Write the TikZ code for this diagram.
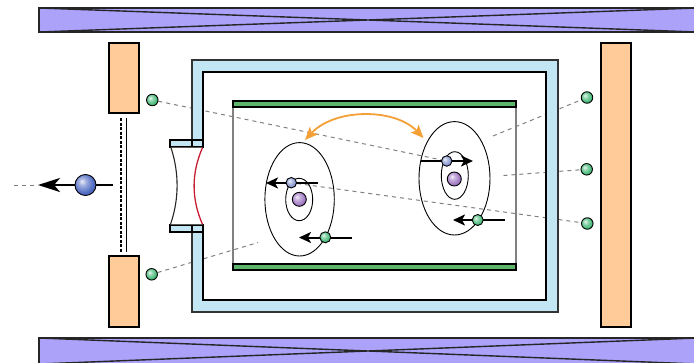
\documentclass[tikz,border=0pt]{standalone}
\usetikzlibrary{arrows.meta}
\pgfdeclarelayer{back}
\pgfdeclarelayer{mid}
\pgfsetlayers{back,mid,main}
\definecolor{barpurple}{RGB}{172,162,250}
\definecolor{slab}{RGB}{255,204,153}
\definecolor{band}{RGB}{194,230,244}
\definecolor{plate}{RGB}{92,181,106}
\definecolor{swapor}{RGB}{245,160,55}
\definecolor{ray}{RGB}{128,128,128}
\definecolor{lensred}{RGB}{200,30,50}
\definecolor{eblue}{RGB}{135,150,210}
\definecolor{egreen}{RGB}{70,185,120}
\definecolor{nuc}{RGB}{160,120,195}
\definecolor{pblue}{RGB}{80,108,195}
\colorlet{ballc}{egreen}
% soft sphere shading, highlight to the upper left
\pgfdeclareradialshading[ballc]{softball}{\pgfpoint{-9bp}{9bp}}{%
  color(0bp)=(ballc!10!white); color(9bp)=(ballc!55!white);
  color(24bp)=(ballc); color(36bp)=(ballc!85!black); color(60bp)=(ballc!65!black)}
\begin{document}
\begin{tikzpicture}[x=1pt,y=-1pt,
  bcol/.code={\colorlet{ballc}{#1}},
  ball/.style={circle,draw=black,line width=0.9pt,inner sep=0pt,shading=softball},
  marker/.style={bcol=egreen,ball,minimum size=11.5pt},
  electron/.style={bcol=eblue,ball,minimum size=10.5pt},
  velectron/.style={bcol=egreen,ball,minimum size=11pt},
  nucleus/.style={bcol=nuc,ball,minimum size=14pt},
  photoel/.style={bcol=pblue,ball,minimum size=21pt},
  raypath/.style={ray,line width=1pt,dash pattern=on 4pt off 4pt},
  kick/.style={line width=2pt,-{Stealth[length=12pt,width=11pt,inset=3pt]}},
  bigkick/.style={line width=2.8pt,-{Stealth[length=22pt,width=14pt,inset=6pt]}},
  magnet/.style={fill=barpurple,draw=black!85,line width=1.6pt},
  slabstyle/.style={fill=slab,draw=black,line width=1.5pt},
  platestyle/.style={fill=plate,draw=black,line width=1.6pt},
  orbit/.style={draw=black,line width=0.9pt}
]
\useasboundingbox (0,0) rectangle (694,362);

% magnet bars with cross marks
\filldraw[magnet] (39,8) rectangle (697,32);
\draw[line width=1.4pt,black!85] (39,8) -- (697,32) (39,32) -- (697,8);
\filldraw[magnet] (39,338) rectangle (697,364);
\draw[line width=1.4pt,black!85] (39,338) -- (697,364) (39,364) -- (697,338);

% side slabs
\filldraw[slabstyle] (109,43) rectangle (139,113);
\filldraw[slabstyle] (109,256) rectangle (139,327);
\filldraw[slabstyle] (601,43) rectangle (631,327);

% grid between the left slabs
\draw[line width=2.2pt,dash pattern=on 3pt off 1.5pt] (121,118) -- (121,252);
\draw[line width=1pt] (126.3,118) -- (126.3,252);

% inner chamber and plates
\draw[ray,line width=1.2pt] (233,104) rectangle (516,266);
\filldraw[platestyle] (233,101) rectangle (516,107);
\filldraw[platestyle] (233,264) rectangle (516,270);

% atom orbits
\draw[orbit] (299.6,199.3) ellipse [x radius=34.7pt, y radius=56.7pt];
\draw[orbit] (299.2,199.5) ellipse [x radius=13.5pt, y radius=21.2pt];
\draw[orbit] (454.5,178.3) ellipse [x radius=35.5pt, y radius=56.7pt];
\draw[orbit] (454.8,175.5) ellipse [x radius=13.5pt, y radius=23.8pt];

% detector markers
\node[marker] (mlt) at (152.3,100) {};
\node[marker] (mlb) at (151.7,274.3) {};
\node[marker] (mrt) at (587,97.5) {};
\node[marker] (mrm) at (586.7,169.3) {};
\node[marker] (mrb) at (587.3,223.5) {};

% atoms
\node[nucleus] (nL) at (299.3,199.3) {};
\node[nucleus] (nR) at (454.3,179) {};
\node[electron] (eLb) at (291.3,182.7) {};
\node[velectron] (eLg) at (325.3,237.3) {};
\node[electron] (eRb) at (446.7,161) {};
\node[velectron] (eRg) at (477.7,220) {};

% emitted electron
\node[photoel] (pe) at (85.5,185) {};

% free ends of paths
\coordinate (rayLB) at (258,242.5);
\coordinate (rayRT) at (493,136);
\coordinate (rayRM) at (503.5,175.5);
\coordinate (rayFar) at (14,185);
\coordinate (peTip) at (38,185);
\coordinate (peTail) at (113,185);
\coordinate (eLbTip) at (266,183);
\coordinate (eLbTail) at (318,183);
\coordinate (eLgTip) at (299,237.5);
\coordinate (eLgTail) at (352,237.5);
\coordinate (eRbTip) at (473,161);
\coordinate (eRbTail) at (421,161);
\coordinate (eRgTip) at (453,220);
\coordinate (eRgTail) at (505,220);
\coordinate (swapL) at (305,140);
\coordinate (swapR) at (423.5,138);

% rays, under the vessel wall
\begin{pgfonlayer}{back}
\draw[raypath] (mlt) -- (eRb);
\draw[raypath] (mlb) -- (rayLB);
\draw[raypath] (eLb) -- (mrb);
\draw[raypath] (rayRT) -- (mrt);
\draw[raypath] (rayRM) -- (mrm);
\draw[raypath] (rayFar) -- (peTip);
\end{pgfonlayer}

\begin{pgfonlayer}{mid}
% vessel wall with a window on the left side
\fill[band] (192,147) -- (192,60) -- (558,60) -- (558,312) -- (192,312) -- (192,225)
  -- (203,225) -- (203,300) -- (546,300) -- (546,72) -- (203,72) -- (203,147) -- cycle;
\draw[black!80,line width=1.2pt] (192,147) -- (192,60) -- (558,60) -- (558,312) -- (192,312) -- (192,225);
\filldraw[fill=band,draw=black,line width=1.4pt] (170,140) rectangle (203,147);
\filldraw[fill=band,draw=black,line width=1.4pt] (170,225) rectangle (203,232);
\draw[black,line width=1.2pt] (192,140) -- (192,147) (192,225) -- (192,232);
\draw[black,line width=2.4pt] (203,147) -- (203,72) -- (546,72) -- (546,300) -- (203,300) -- (203,225);
% window lens
\fill[white] (171,147.7) .. controls (179.2,173) and (179.2,199) .. (170.5,224.3)
  -- (202.5,224.3) .. controls (191.3,199) and (191.3,173) .. (202.5,147.7) -- cycle;
\draw[black!85,line width=1.1pt] (171,147.7) .. controls (179.2,173) and (179.2,199) .. (170.5,224.3);
\draw[lensred,line width=1.3pt] (202.5,147.7) .. controls (191.3,173) and (191.3,199) .. (202.5,224.3);
% electron motion arrows
\draw[kick] (eLbTail) -- (eLbTip);
\draw[kick] (eLgTail) -- (eLgTip);
\draw[kick] (eRbTail) -- (eRbTip);
\draw[kick] (eRgTail) -- (eRgTip);
\draw[bigkick] (peTail) -- (peTip);
\end{pgfonlayer}

% exchange between the two atoms
\draw[swapor,line width=1.8pt,{Stealth[length=13pt,width=11pt,inset=3pt]}-{Stealth[length=13pt,width=11pt,inset=3pt]}]
  (swapL) .. controls (335,108) and (395,108) .. (swapR);
\end{tikzpicture}
\end{document}
